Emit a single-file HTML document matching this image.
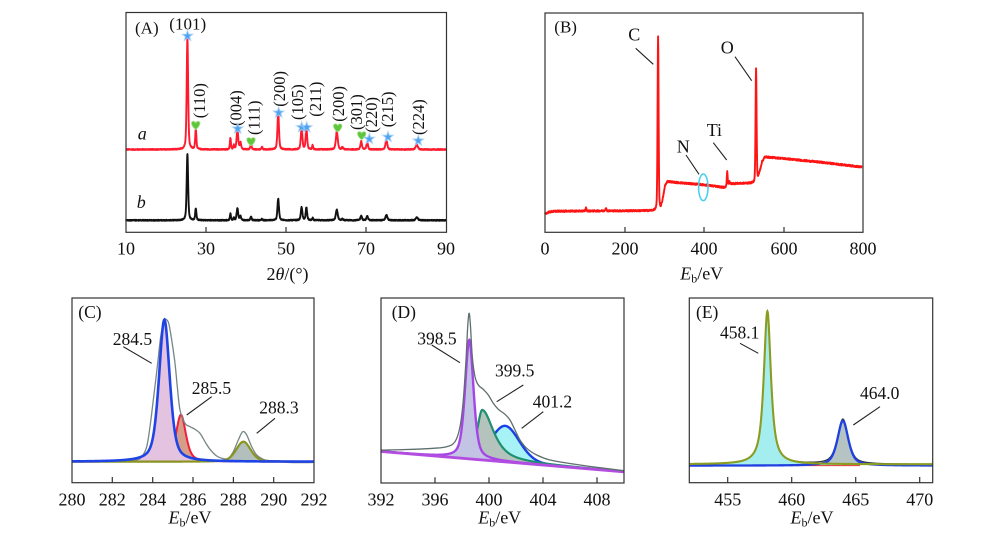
<!DOCTYPE html>
<html><head><meta charset="utf-8"><style>
html,body{margin:0;padding:0;background:#fff;}
svg{display:block;font-family:"Liberation Serif","DejaVu Serif",serif;}
</style></head><body>
<svg id="s" width="1000" height="540" viewBox="0 0 1000 540" xmlns="http://www.w3.org/2000/svg">
<defs>
<path id="star" d="M0,-5.5L1.35,-1.86L5.23,-1.7L2.19,0.71L3.23,4.45L0,2.3L-3.23,4.45L-2.19,0.71L-5.23,-1.7L-1.35,-1.86Z" fill="#4fa3ee" stroke="#a9d3fb" stroke-width="1.2" stroke-opacity="0.7"/>
<path id="heart" d="M0,3.8C-5,0.2 -5.2,-4.4 -2.4,-4.4C-1,-4.4 0,-3.4 0,-2.5C0,-3.4 1,-4.4 2.4,-4.4C5.2,-4.4 5,0.2 0,3.8Z" fill="#5ec63a" stroke="#a6e28e" stroke-width="0.8"/>
</defs>
<rect width="1000" height="540" fill="#fff"/>

<!-- Panel A -->
<path id="aBlk" fill="none" stroke="#111" stroke-width="1.9" stroke-linejoin="round"/>
<path id="aRed" fill="none" stroke="#ff1a2e" stroke-width="1.9" stroke-linejoin="round"/>
<rect x="126" y="12.5" width="320.5" height="219.8" fill="none" stroke="#333" stroke-width="1.2"/>
<path d="M206,232.3V227M286,232.3V227M366,232.3V227" stroke="#333" stroke-width="1.2"/>
<g font-size="18" text-anchor="middle" fill="#111">
<text x="126" y="254.5">10</text><text x="206" y="254.5">30</text><text x="286" y="254.5">50</text><text x="366" y="254.5">70</text><text x="446" y="254.5">90</text>
<text x="287.5" y="280">2<tspan font-style="italic">θ</tspan>/(°)</text>
</g>
<text x="135" y="33.5" font-size="17" fill="#111">(A)</text>
<text x="187.7" y="29.5" font-size="17" text-anchor="middle" fill="#111">(101)</text>
<text x="137.7" y="139.3" font-size="18" font-style="italic" fill="#111">a</text>
<text x="136.7" y="208" font-size="18" font-style="italic" fill="#111">b</text>
<g font-size="16.5" fill="#111" dominant-baseline="central">
<text transform="translate(199.3,118.3) rotate(-90)">(110)</text>
<text transform="translate(236,126) rotate(-90)">(004)</text>
<text transform="translate(254,135) rotate(-90)">(111)</text>
<text transform="translate(279.3,106.7) rotate(-90)">(200)</text>
<text transform="translate(297.3,120) rotate(-90)">(105)</text>
<text transform="translate(315.7,116.7) rotate(-90)">(211)</text>
<text transform="translate(338.3,121.7) rotate(-90)">(200)</text>
<text transform="translate(356.7,130) rotate(-90)">(301)</text>
<text transform="translate(371.7,132.7) rotate(-90)">(220)</text>
<text transform="translate(387.3,127.3) rotate(-90)">(215)</text>
<text transform="translate(418.3,135) rotate(-90)">(224)</text>
</g>
<use href="#star" x="187.5" y="36"/>
<use href="#heart" x="195.7" y="125.7"/>
<use href="#star" x="237.7" y="128.7"/>
<use href="#heart" x="251" y="142"/>
<use href="#star" x="278.7" y="112.7"/>
<use href="#star" x="301.7" y="127.3"/>
<use href="#star" x="306.7" y="127.3"/>
<use href="#heart" x="337.7" y="128.3"/>
<use href="#heart" x="361.7" y="136"/>
<use href="#star" x="369.3" y="139"/>
<use href="#star" x="388" y="137"/>
<use href="#star" x="418.3" y="140.7"/>

<!-- Panel B -->
<path id="bRed" fill="none" stroke="#ff1414" stroke-width="1.9" stroke-linejoin="round"/>
<rect x="545" y="13" width="318" height="219.3" fill="none" stroke="#333" stroke-width="1.2"/>
<path d="M625,232.3V227M704,232.3V227M784,232.3V227" stroke="#333" stroke-width="1.2"/>
<g font-size="18" text-anchor="middle" fill="#111">
<text x="545" y="254.5">0</text><text x="625" y="254.5">200</text><text x="704" y="254.5">400</text><text x="784" y="254.5">600</text><text x="863" y="254.5">800</text>
<text x="701.7" y="279.5"><tspan font-style="italic">E</tspan><tspan font-size="12" dy="3">b</tspan><tspan dy="-3">/eV</tspan></text>
</g>
<text x="554.3" y="32.5" font-size="17" fill="#111">(B)</text>
<g font-size="18" fill="#111">
<text x="628.3" y="40.7">C</text>
<text x="720.7" y="53.3">O</text>
<text x="706.7" y="136">Ti</text>
<text x="676.7" y="152.7">N</text>
</g>
<path d="M635.7,48.3L653.3,64.3M735,56.7L751.7,80.7M713.3,142.7L726.7,160M686,155L699,174.3" stroke="#222" stroke-width="1.1"/>
<ellipse cx="703.3" cy="187.3" rx="4.7" ry="13.3" fill="none" stroke="#3fd0ee" stroke-width="1.5"/>

<!-- Panel C -->
<path id="cRedF" fill="#d69d88"/>
<path id="cRedL" fill="none" stroke="#f0203c" stroke-width="2"/>
<path id="cBluF" fill="#e3c3e0"/>
<path id="cOliF" fill="#b3bfbd"/>
<path id="cGray" fill="none" stroke="#768686" stroke-width="1.3"/>
<path id="cOliL" fill="none" stroke="#8a9420" stroke-width="2.2"/>
<path id="cBluL" fill="none" stroke="#1f44e6" stroke-width="2.6"/>
<rect x="72" y="298" width="242" height="184.7" fill="none" stroke="#333" stroke-width="1.2"/>
<path d="M112.3,482.7V477M152.7,482.7V477M193,482.7V477M233.4,482.7V477M273.7,482.7V477" stroke="#333" stroke-width="1.2"/>
<g font-size="18" text-anchor="middle" fill="#111">
<text x="72" y="505.5">280</text><text x="112.3" y="505.5">282</text><text x="152.7" y="505.5">284</text><text x="193" y="505.5">286</text><text x="233.4" y="505.5">288</text><text x="273.7" y="505.5">290</text><text x="314" y="505.5">292</text>
<text x="190" y="523.5"><tspan font-style="italic">E</tspan><tspan font-size="12" dy="3">b</tspan><tspan dy="-3">/eV</tspan></text>
</g>
<g font-size="17.5" fill="#111">
<text x="78.3" y="318">(C)</text>
<text x="112.7" y="345">284.5</text>
<text x="191.7" y="394">285.5</text>
<text x="259.3" y="413.3">288.3</text>
</g>
<path d="M123.3,346.7L151.7,363.3M186.7,415L211.7,396.7M256.7,433.3L275,418.3" stroke="#222" stroke-width="1.1"/>

<!-- Panel D -->
<path id="dBluF" fill="#a6f2f4"/>
<path id="dBluL" fill="none" stroke="#1a40e8" stroke-width="2.4"/>
<path id="dGrnF" fill="#b5c3bd"/>
<path id="dGrnL" fill="none" stroke="#1f9070" stroke-width="2.2"/>
<path id="dPurF" fill="#c3c3e3"/>
<path id="dPurL" fill="none" stroke="#a545e8" stroke-width="2.4"/>
<path d="M381,451.5L624,471.8" stroke="#b24de0" stroke-width="2.8"/>
<path id="dGray" fill="none" stroke="#5e6e6e" stroke-width="1.3"/>
<rect x="381" y="298" width="243" height="185" fill="none" stroke="#333" stroke-width="1.2"/>
<path d="M435,483V477.3M489,483V477.3M543,483V477.3M597,483V477.3" stroke="#333" stroke-width="1.2"/>
<g font-size="18" text-anchor="middle" fill="#111">
<text x="381" y="505.5">392</text><text x="435" y="505.5">396</text><text x="489" y="505.5">400</text><text x="543" y="505.5">404</text><text x="597" y="505.5">408</text>
<text x="499.7" y="523.5"><tspan font-style="italic">E</tspan><tspan font-size="12" dy="3">b</tspan><tspan dy="-3">/eV</tspan></text>
</g>
<g font-size="17.5" fill="#111">
<text x="391.7" y="318">(D)</text>
<text x="417.3" y="344.3">398.5</text>
<text x="495" y="376.7">399.5</text>
<text x="532.7" y="407.3">401.2</text>
</g>
<path d="M431.7,345L460,362.7M496.7,401.7L523.3,385M521.7,428.3L543.3,411.7" stroke="#222" stroke-width="1.1"/>

<!-- Panel E -->
<path id="eBluF" fill="#b5c3c3"/>
<path id="eGrnF" fill="#a5eef0"/>
<path id="eGray" fill="none" stroke="#333" stroke-width="1.2"/>
<path d="M790,465.6L860,465.6" stroke="#e03030" stroke-width="1"/>
<path id="eBluL" fill="none" stroke="#2040e0" stroke-width="2.3"/>
<path id="eGrnL" fill="none" stroke="#8a9c22" stroke-width="2.1"/>
<rect x="689.3" y="298" width="243.4" height="184.7" fill="none" stroke="#333" stroke-width="1.2"/>
<path d="M727.7,482.7V477M791.7,482.7V477M855.7,482.7V477M919.7,482.7V477" stroke="#333" stroke-width="1.2"/>
<g font-size="18" text-anchor="middle" fill="#111">
<text x="727.7" y="505.5">455</text><text x="791.7" y="505.5">460</text><text x="855.7" y="505.5">465</text><text x="919.7" y="505.5">470</text>
<text x="812" y="523.5"><tspan font-style="italic">E</tspan><tspan font-size="12" dy="3">b</tspan><tspan dy="-3">/eV</tspan></text>
</g>
<g font-size="17.5" fill="#111">
<text x="696" y="318">(E)</text>
<text x="720" y="338.3">458.1</text>
<text x="860" y="399">464.0</text>
</g>
<path d="M740,343.3L758.3,353.3M853.3,425L880,406.7" stroke="#222" stroke-width="1.1"/>
</svg>
<script>
(function(){
function pv(x,c,w,eta){var t=Math.pow(2*(x-c)/w,2);return eta/(1+t)+(1-eta)*Math.exp(-0.693147*t);}
function apv(x,c,wl,wr,eta){return pv(x,c,x<c?wl:wr,eta);}
var seed=12345;function rnd(){seed=(seed*1103515245+12345)%2147483648;return seed/2147483648;}
function P(pts){var s='M';for(var i=0;i<pts.length;i++){s+=(i?'L':'')+pts[i][0].toFixed(2)+','+pts[i][1].toFixed(2);}return s;}
function set(id,d){document.getElementById(id).setAttribute('d',d);}
function smooth(pts){var d='M'+pts[0][0]+','+pts[0][1];for(var i=0;i<pts.length-1;i++){var p0=pts[i-1]||pts[i],p1=pts[i],p2=pts[i+1],p3=pts[i+2]||p2;
var c=[p1[0]+(p2[0]-p0[0])/6,p1[1]+(p2[1]-p0[1])/6,p2[0]-(p3[0]-p1[0])/6,p2[1]-(p3[1]-p1[1])/6,p2[0],p2[1]];
d+='C'+c.map(function(v){return v.toFixed(2);}).join(',');}return d;}
function interp(arr,e){for(var i=1;i<arr.length;i++){if(e<=arr[i][0]){var a=arr[i-1],b=arr[i];return a[1]+(b[1]-a[1])*(e-a[0])/(b[0]-a[0]);}}return arr[arr.length-1][1];}

/* Panel A */
var xr=[[25.35,112,0.42],[27.45,20,0.35],[36.1,11,0.3],[36.95,4,0.3],[37.85,20,0.45],[38.6,7,0.4],[41.25,6.5,0.35],[44.0,2.5,0.3],[48.05,36.5,0.45],[53.9,22,0.45],[55.1,22,0.42],[56.65,4,0.3],[62.7,18,0.55],[64.1,2,0.4],[68.8,8,0.45],[70.3,7,0.45],[75.1,9,0.55],[82.7,5,0.6]];
var rp=[],bp=[];
for(var t=10;t<=90.001;t+=0.04){var s=0;for(var k=0;k<xr.length;k++)s+=xr[k][1]*pv(t,xr[k][0],xr[k][2],0.5);
var x=126+(t-10)*4;rp.push([x,149.5-s-(rnd()-0.5)*1.0]);bp.push([x,220.3-s*0.59-(rnd()-0.5)*1.0]);}
set('aRed',P(rp));set('aBlk',P(bp));

/* Panel B */
var bg=[[0,213.8],[10,212],[25,211.2],[280,210.6],[286,210],[291,208.5],[296,200],[302,186],[308,181.5],[330,182.5],[400,184.8],[453,187.6],[456,186],[470,183.6],[525,183],[530,182],[535,180],[540,172],[546,162],[553,157],[570,157.5],[600,158.5],[700,162.5],[797,167]];
var bpk=[[284.5,174.5,3,0.3],[531,113,3,0.3],[458.5,14,2.5,0.3],[464,3,3,0.3],[103,3,3,0.5],[153,3,3,0.5]];
var bb=[];
for(var e=0;e<=797.001;e+=0.5){var s=0;for(var k=0;k<bpk.length;k++)s+=bpk[k][1]*pv(e,bpk[k][0],bpk[k][2],bpk[k][3]);
bb.push([545+e*0.3975,interp(bg,e)-s-(rnd()-0.5)*1.6]);}
set('bRed',P(bb));

/* Panel C */
function xc(e){return 72+(e-280)*20.167;}
function compC(c,h,w,eta,idL,idF){var pts=[];for(var e=280;e<=292.0001;e+=0.02)pts.push([xc(e),461.7-h*pv(e,c,w,eta)]);
var d=P(pts);set(idL,d);set(idF,d+'L314,461.7L72,461.7Z');}
compC(285.4,47,0.58,0.55,'cRedL','cRedF');
compC(284.58,142,0.63,0.5,'cBluL','cBluF');
compC(288.5,20,0.85,0.3,'cOliL','cOliF');
var grayC=[[72,461.9],[110,461.6],[135,460.2],[141.7,456.7],[146.7,446.7],[150,426.7],[153.3,400],[157.3,366.7],[160.7,336.7],[164,320.7],[166,319.3],[168.7,323.3],[171.7,340],[175,363.3],[177.3,386.7],[180,410],[185,423.3],[190,426.7],[195,429.3],[200,433.3],[205,441.7],[210,449.3],[216.7,456],[223.3,458.7],[228.3,458.3],[233.3,451.7],[238.3,440],[242.7,431.7],[246.7,435],[251.7,446.7],[256.7,455],[263.3,459.3],[270,460.7],[290,462.5],[313,462.5]];
set('cGray',smooth(grayC));

/* Panel D */
function xd(e){return 381+(e-392)*13.5;}
function bgd(x){return 451.5+(x-381)*0.0835;}
function compD(c,h,wl,wr,eta,idL,idF){var pts=[];for(var e=392;e<=410.0001;e+=0.02){var x=xd(e);pts.push([x,bgd(x)-h*apv(e,c,wl,wr,eta)]);}
var d=P(pts);set(idL,d);set(idF,d+'L624,'+bgd(624).toFixed(2)+'L381,451.5Z');}
compD(401.2,36,2.5,2.5,0.2,'dBluL','dBluF');
compD(399.5,50,0.9,2.0,0.8,'dGrnL','dGrnF');
compD(398.54,119,0.74,0.74,0.5,'dPurL','dPurF');
var grayD=[[381,450.2],[413.3,449.3],[433.3,448.3],[446.7,446.7],[455,441.7],[460,426.7],[463.3,400],[466,360],[467.7,326.7],[469,313.3],[470.3,323.3],[472.3,356.7],[475,376.7],[478.3,385],[483.3,389.3],[488.3,395],[493.3,403.3],[498.3,409.3],[505,414.3],[510,420],[515,430],[520,440],[526.7,448.3],[536.7,455],[550,460],[573.3,464],[596.7,467.3],[623.5,470.7]];
set('dGray',smooth(grayD));

/* Panel E */
function xe(e){return 689.3+(e-452)*12.8;}
var gl=[],bl=[],gr=[];
for(var e=452;e<=471.0001;e+=0.02){var x=xe(e);var g=153*pv(e,458.1,0.66,0.85),b=45*pv(e,464.0,1.0,0.6);
gl.push([x,464.3-g]);bl.push([x,465.6-b]);gr.push([x,464.4-g-b]);}
var gd=P(gl),bd=P(bl);
set('eGrnL',gd);set('eBluL',bd);set('eGray',P(gr));
set('eGrnF',gd+'L932.7,465L689.3,465Z');set('eBluF',bd+'L932.7,465L689.3,465Z');
})();
</script>
</body></html>
